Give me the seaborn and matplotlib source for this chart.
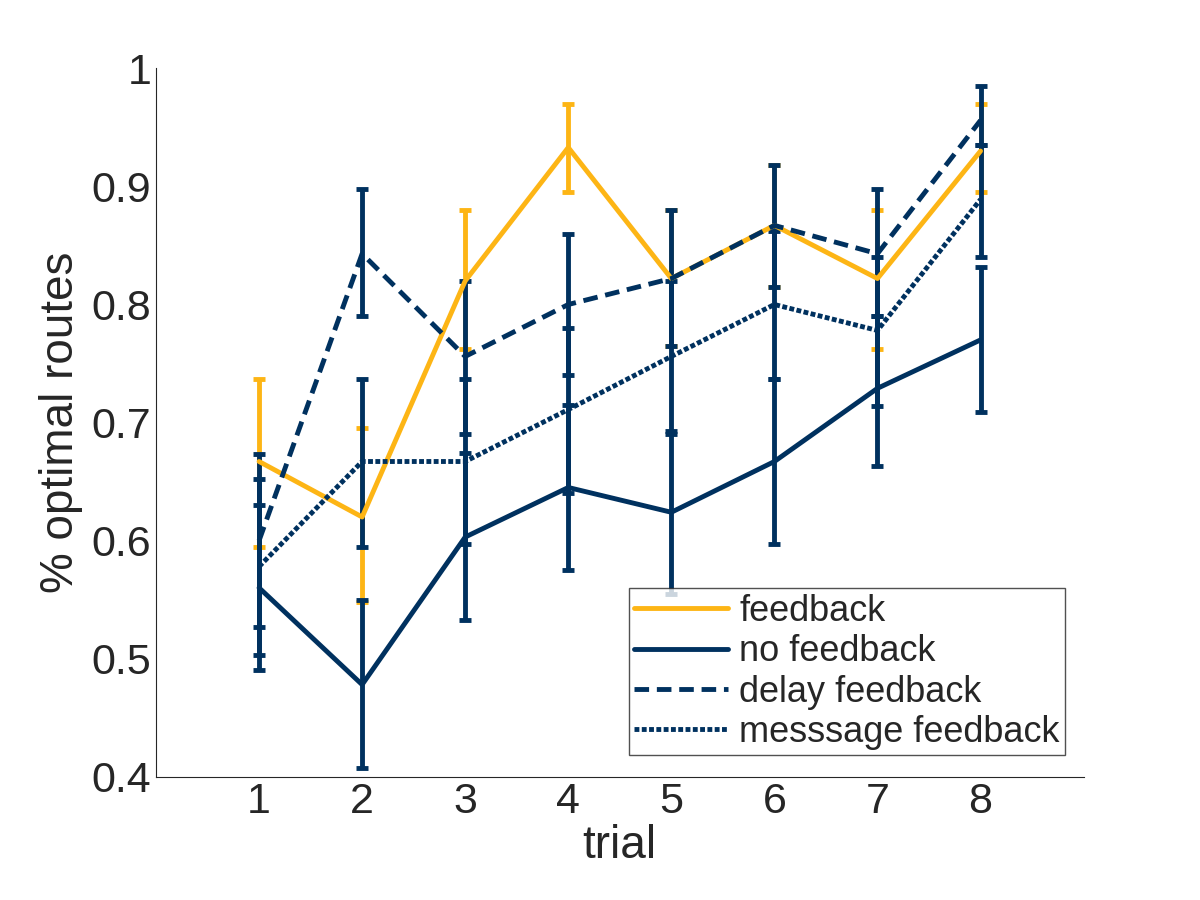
import numpy as np
import pandas as pd
import seaborn as sns
import matplotlib.pyplot as plt

trials = [1, 2, 3, 4, 5, 6, 7, 8]

feedback = [0.667, 0.620, 0.820, 0.933, 0.822, 0.867, 0.822, 0.930]
feedback_lo = [0.595, 0.548, 0.762, 0.895, 0.765, 0.815, 0.762, 0.895]
feedback_hi = [0.737, 0.695, 0.880, 0.970, 0.880, 0.918, 0.880, 0.970]

no_feedback = [0.560, 0.478, 0.603, 0.645, 0.624, 0.667, 0.729, 0.770]
no_feedback_lo = [0.490, 0.407, 0.533, 0.575, 0.555, 0.597, 0.663, 0.709]
no_feedback_hi = [0.630, 0.550, 0.674, 0.715, 0.693, 0.737, 0.790, 0.832]

delay = [0.600, 0.843, 0.756, 0.800, 0.822, 0.867, 0.843, 0.956]
delay_lo = [0.527, 0.790, 0.690, 0.740, 0.765, 0.815, 0.790, 0.935]
delay_hi = [0.673, 0.898, 0.820, 0.860, 0.880, 0.918, 0.898, 0.985]

message = [0.578, 0.667, 0.667, 0.711, 0.756, 0.800, 0.778, 0.889]
message_lo = [0.503, 0.595, 0.597, 0.640, 0.690, 0.737, 0.714, 0.840]
message_hi = [0.652, 0.737, 0.737, 0.780, 0.820, 0.862, 0.840, 0.935]

orange = '#FDB515'
navy = '#00315F'

sns.set_style('white')
plt.rcParams['font.family'] = ['Liberation Sans', 'DejaVu Sans']

fig = plt.figure(figsize=(12, 9), dpi=100)
ax = fig.add_axes([0.13, 0.137, 0.773, 0.787])

series = [
    ('feedback', feedback, feedback_lo, feedback_hi, orange, '-'),
    ('no feedback', no_feedback, no_feedback_lo, no_feedback_hi, navy, '-'),
    ('delay feedback', delay, delay_lo, delay_hi, navy, (0, (3, 1.6))),
    ('messsage feedback', message, message_lo, message_hi, navy, (0, (1, 0.5))),
]

for name, y, lo, hi, c, ls in series:
    y = np.array(y)
    err = [y - np.array(lo), np.array(hi) - y]
    ax.errorbar(trials, y, yerr=err, fmt='none', ecolor=c, elinewidth=3.5,
                capsize=4, capthick=3.5, zorder=2)
    df = pd.DataFrame({'trial': trials, 'val': y})
    sns.lineplot(data=df, x='trial', y='val', ax=ax, color=c, linestyle=ls,
                 linewidth=3.5, label=name, zorder=3)

ax.set_xlim(0, 9)
ax.set_ylim(0.4, 1.0)
ax.set_xticks(trials)
ax.set_yticks([0.4, 0.5, 0.6, 0.7, 0.8, 0.9, 1.0])
ax.set_yticklabels(['0.4', '0.5', '0.6', '0.7', '0.8', '0.9', '1'])
ax.tick_params(labelsize=31, direction='in', length=8, width=1, colors='#262626')
ax.set_xlabel('trial', fontsize=33, color='#262626', labelpad=2)
ax.set_ylabel('% optimal routes', fontsize=33, color='#262626', labelpad=6)
for s in ['top', 'right']:
    ax.spines[s].set_visible(False)
for s in ['left', 'bottom']:
    ax.spines[s].set_color('#262626')

leg = ax.legend(loc='lower right', bbox_to_anchor=(0.98, 0.03), fontsize=26,
                frameon=True, fancybox=False, handlelength=2.6,
                borderpad=0.15, labelspacing=0.15, handletextpad=0.3,
                borderaxespad=0)
leg.get_frame().set_edgecolor('#262626')
leg.get_frame().set_linewidth(1)

fig.savefig('out.png', dpi=100)
